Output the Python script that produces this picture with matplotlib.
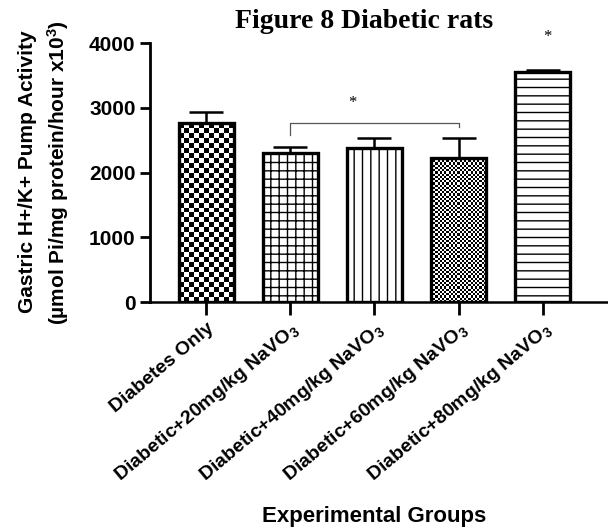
# Figure 8 - gastric H+/K+ pump activity in diabetic rats
import numpy as np
import matplotlib
matplotlib.use('Agg')
import matplotlib.pyplot as plt

groups = ['Diabetes Only',
          'Diabetic+20mg/kg NaVO$_3$',
          'Diabetic+40mg/kg NaVO$_3$',
          'Diabetic+60mg/kg NaVO$_3$',
          'Diabetic+80mg/kg NaVO$_3$']
means = [2760, 2300, 2375, 2220, 3545]
errs = [170, 90, 165, 310, 35]
yticks = [0, 1000, 2000, 3000, 4000]

plt.rcParams['font.family'] = ['Liberation Sans', 'DejaVu Sans']
plt.rcParams['font.weight'] = 'bold'
plt.rcParams['mathtext.fontset'] = 'custom'
plt.rcParams['mathtext.rm'] = 'Liberation Sans:bold'
plt.rcParams['mathtext.it'] = 'Liberation Sans:bold'
plt.rcParams['hatch.linewidth'] = 1.0

fig = plt.figure(figsize=(6.08, 5.31), dpi=100)
ax = fig.add_axes([0.247, 0.431, 0.751, 0.488])

x = np.arange(len(groups))
width = 0.65
hatches = [None, '++', '||', None, '--']
bars = ax.bar(x, means, width, color='none', edgecolor='black', linewidth=2.4,
              zorder=2)
for b, h in zip(bars, hatches):
    if h:
        b.set_hatch(h)

ax.errorbar(x, means, yerr=[np.zeros(len(errs)), errs], fmt='none', ecolor='black',
            elinewidth=1.8, capsize=12, capthick=1.8, zorder=1)

ax.set_xlim(-0.665, 4.76)
ax.set_ylim(0, 4000)

# checkerboard fills for bars 1 and 4
fig.canvas.draw()
def checker(bar, cell_px):
    x0, y0 = bar.get_x(), 0
    x1, y1 = bar.get_x() + bar.get_width(), bar.get_height()
    p0 = ax.transData.transform((x0, y0))
    p1 = ax.transData.transform((x1, y1))
    nx = max(1, int(round((p1[0] - p0[0]) / cell_px)))
    ny = max(1, int(round((p1[1] - p0[1]) / cell_px)))
    img = (np.add.outer(np.arange(ny), np.arange(nx)) % 2).astype(float)
    im = ax.imshow(img, cmap='gray', extent=(x0, x1, y0, y1), aspect='auto',
                   interpolation='nearest', zorder=1.5, vmin=0, vmax=1)
    im.set_clip_path(bar)

checker(bars[0], 5.0)
checker(bars[3], 2.2)
ax.set_xlim(-0.665, 4.76)
ax.set_ylim(0, 4000)

# significance bracket and stars
ax.plot([1, 1, 3, 3], [2580, 2760, 2760, 2700], color='#555555', lw=0.9)
ax.text(1.74, 3080, '*', ha='center', va='center', fontsize=12,
        family='Liberation Serif', fontweight='normal')
ax.text(4.05, 4090, '*', ha='center', va='center', fontsize=12,
        family='Liberation Serif', fontweight='normal', clip_on=False)

for s in ['top', 'right']:
    ax.spines[s].set_visible(False)
ax.spines['left'].set_linewidth(2)
ax.spines['bottom'].set_linewidth(1.8)
ax.set_yticks(yticks)
ax.set_yticklabels([str(v) for v in yticks], fontsize=15, fontweight='bold')
ax.tick_params(axis='y', width=2, length=7)
ax.tick_params(axis='x', width=2, length=9)
ax.set_xticks(x)
ax.set_xticklabels(groups, rotation=40, ha='right', va='top',
                   rotation_mode='anchor', fontsize=14, fontweight='bold')

fig.text(0.599, 0.96, 'Figure 8 Diabetic rats', ha='center', va='center',
         family='Liberation Serif', fontweight='bold', fontsize=20)
fig.text(0.046, 0.676, 'Gastric H+/K+ Pump Activity', rotation=90, ha='center',
         va='center', fontsize=15, fontweight='bold')
fig.text(0.096, 0.676, '(\u00b5mol Pi/mg protein/hour x10$^3$)', rotation=90,
         ha='center', va='center', fontsize=15, fontweight='bold')
fig.text(0.615, 0.008, 'Experimental Groups', ha='center', va='bottom',
         fontsize=16, fontweight='bold')

plt.savefig('out.png', dpi=100)
